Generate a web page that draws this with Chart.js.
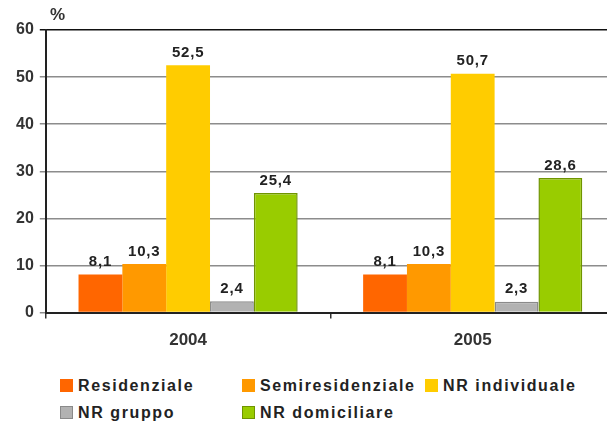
<!DOCTYPE html>
<html>
<head>
<meta charset="utf-8">
<script src="https://cdn.jsdelivr.net/npm/chart.js@4"></script>
<style>
  html, body { margin: 0; padding: 0; background: #fff; overflow: hidden; }
  #wrap { position: relative; width: 615px; height: 363px; }
  #pct { position: absolute; left: 50px; top: 5px; font: bold 17px Arial, "Liberation Sans", sans-serif; color: #333; }
  #legend { position: absolute; left: 60px; top: 377px; width: 560px; font: bold 16px Arial, "Liberation Sans", sans-serif; letter-spacing: 1.6px; color: #222; }
  .item { position: absolute; white-space: nowrap; }
  .sw { display: inline-block; width: 13px; height: 13px; margin-right: 5px; vertical-align: -1px; box-sizing: border-box; }
</style>
</head>
<body>
<div id="wrap">
  <canvas id="barChart"></canvas>
  <div id="pct">%</div>
</div>
<div id="legend"></div>
<script>
const years = ['2004', '2005'];
const seriesNames = ['Residenziale', 'Semiresidenziale', 'NR individuale', 'NR gruppo', 'NR domiciliare'];
const residenziale = [8.1, 8.1];
const semiresidenziale = [10.3, 10.3];
const nrIndividuale = [52.5, 50.7];
const nrGruppo = [2.4, 2.3];
const nrDomiciliare = [25.4, 28.6];
const yTicks = [0, 10, 20, 30, 40, 50, 60];

const fills = ['#ff6600', '#ff9900', '#ffcc00', '#b2b2b2', '#99cc00'];
const borders = ['#ff6600', '#ff9900', '#ffcc00', '#8a8a8a', '#6f9400'];
const allValues = [residenziale, semiresidenziale, nrIndividuale, nrGruppo, nrDomiciliare];
const fontFamily = 'Arial, "Liberation Sans", sans-serif';

const valueLabels = {
  id: 'valueLabels',
  afterDatasetsDraw(chart) {
    const ctx = chart.ctx;
    ctx.save();
    ctx.font = 'bold 15px ' + fontFamily;
    ctx.letterSpacing = '0.8px';
    ctx.fillStyle = '#222';
    ctx.textAlign = 'center';
    ctx.textBaseline = 'bottom';
    chart.data.datasets.forEach((ds, i) => {
      chart.getDatasetMeta(i).data.forEach((bar, j) => {
        ctx.fillText(String(ds.data[j]).replace('.', ','), bar.x, bar.y - 5);
      });
    });
    ctx.restore();
  }
};

const ctx = document.getElementById('barChart').getContext('2d');
const barChart = new Chart(ctx, {
  type: 'bar',
  data: {
    labels: years,
    datasets: seriesNames.map((name, i) => ({
      label: name,
      data: allValues[i],
      backgroundColor: fills[i],
      borderColor: borders[i],
      borderWidth: i >= 3 ? 1.5 : 0,
      categoryPercentage: 0.77,
      barPercentage: 1.0
    }))
  },
  plugins: [valueLabels],
  options: {
    responsive: true,
    maintainAspectRatio: false,
    animation: false,
    layout: { padding: { top: 30, left: 10, right: 0, bottom: 0 } },
    plugins: {
      legend: { display: false },
      tooltip: { enabled: false }
    },
    scales: {
      x: {
        grid: { display: true, drawOnChartArea: false, offset: true, tickLength: 6, color: '#333', lineWidth: 1.5 },
        border: { color: '#222', width: 2 },
        ticks: { color: '#333', font: { size: 17, weight: 'bold', family: fontFamily }, padding: 12 }
      },
      y: {
        min: 0,
        max: 60,
        afterBuildTicks(axis) { axis.ticks = yTicks.map(v => ({ value: v })); },
        grid: {
          tickLength: 6,
          lineWidth: 1.5,
          color: c => (c.tick && c.tick.value === 60) ? '#111' : '#8c8c8c'
        },
        border: { color: '#222', width: 2 },
        ticks: { color: '#333', font: { size: 16, weight: 'bold', family: fontFamily }, padding: 6 }
      }
    }
  }
});

// legend laid out in fixed columns like the reference
const legend = document.getElementById('legend');
const pos = [[0, 0], [182, 0], [365, 0], [0, 27], [182, 27]];
seriesNames.forEach((name, i) => {
  const el = document.createElement('div');
  el.className = 'item';
  el.style.left = pos[i][0] + 'px';
  el.style.top = pos[i][1] + 'px';
  const sw = document.createElement('span');
  sw.className = 'sw';
  sw.style.background = fills[i];
  if (i >= 3) sw.style.border = '1.5px solid ' + borders[i];
  el.appendChild(sw);
  el.appendChild(document.createTextNode(name));
  legend.appendChild(el);
});
</script>
</body>
</html>
